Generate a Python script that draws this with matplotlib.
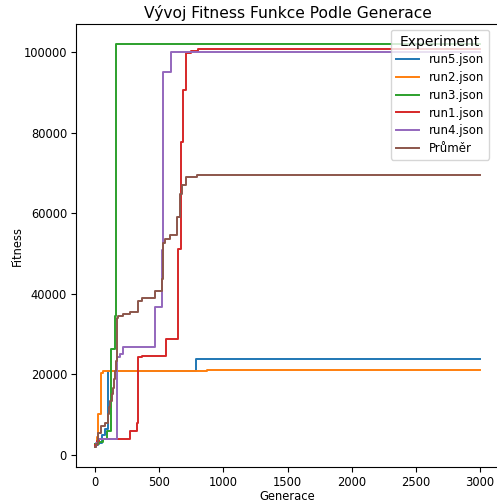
import matplotlib
matplotlib.use("Agg")
import matplotlib.pyplot as plt

# Best fitness per run: (generation where the value changes, fitness)
run5_gen = [0, 20, 55, 78, 99, 787, 3000]
run5_fit = [2500, 3000, 5000, 6500, 20900, 23700, 23700]

run2_gen = [0, 12, 26, 47, 65, 870, 3000]
run2_fit = [2700, 4500, 10200, 20400, 20900, 21100, 21100]

run3_gen = [0, 30, 60, 90, 123, 155, 163, 3000]
run3_fit = [2800, 3200, 4000, 6000, 26300, 34600, 102000, 102000]

run1_gen = [0, 15, 30, 273, 325, 338, 364, 553, 649, 670, 683, 709, 745, 805, 3000]
run1_fit = [2500, 3500, 4050, 6000, 8000, 24200, 24600, 28800, 51200, 77700,
            90600, 99900, 100300, 100750, 100750]

run4_gen = [0, 10, 25, 170, 195, 221, 467, 521, 530, 590, 3000]
run4_fit = [2000, 3000, 3900, 24200, 25050, 26870, 36650, 51000, 95100, 100100, 100100]

mean_gen = [0, 10, 25, 50, 78, 104, 109, 117, 130, 143, 150, 156, 164, 170, 182,
            220, 273, 338, 364, 467, 519, 526, 545, 583, 636, 660, 675, 706, 792, 3000]
mean_fit = [2000, 2600, 5500, 7200, 8000, 10200, 11800, 13400, 15100, 16700, 18900,
            20900, 23400, 34100, 34600, 35000, 35400, 38300, 39000, 40800, 43600,
            52600, 53700, 54500, 59000, 64900, 66900, 69000, 69500, 69500]

series = [
    ("run5.json", run5_gen, run5_fit),
    ("run2.json", run2_gen, run2_fit),
    ("run3.json", run3_gen, run3_fit),
    ("run1.json", run1_gen, run1_fit),
    ("run4.json", run4_gen, run4_fit),
    ("Průměr", mean_gen, mean_fit),
]

W, H = 497, 504
fig = plt.figure(figsize=(W / 100, H / 100), dpi=100)
ax_left, ax_bottom, ax_w, ax_h = 75.75, 37, 423.5, 443
ax = fig.add_axes([ax_left / W, ax_bottom / H, ax_w / W, ax_h / H])

for label, g, f in series:
    ax.plot(g, f, drawstyle="steps-post", linewidth=1.4, label=label)

ax.set_title("Vývoj Fitness Funkce Podle Generace", fontsize=11.2, pad=4.5)
ax.set_xlabel("Generace", fontsize=8.3, labelpad=1)
ax.set_ylabel("Fitness", fontsize=8.3, labelpad=0)
ax.tick_params(labelsize=8.3, length=3.5, pad=2.8)

# legend anchored just inside the upper-right corner
anchor_x = (489 - ax_left) / ax_w
anchor_y = (H - ax_bottom - 30) / ax_h
ax.legend(title="Experiment", loc="upper right", fontsize=8.5, title_fontsize=10,
          bbox_to_anchor=(anchor_x, anchor_y), borderaxespad=0, labelspacing=0.4)

fig.savefig("out.png", dpi=100)
